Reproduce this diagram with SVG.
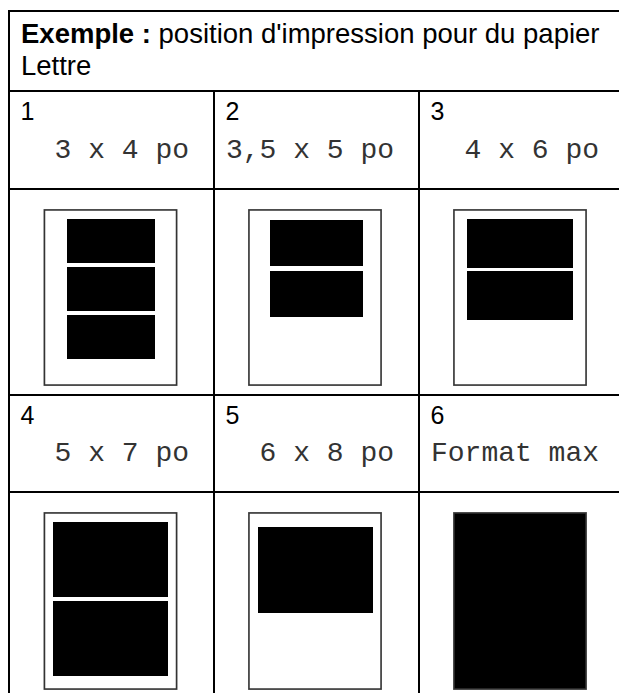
<svg xmlns="http://www.w3.org/2000/svg" width="619" height="693" viewBox="0 0 619 693">
<style>
.grid{stroke:#000;stroke-width:2;fill:none}
.hd{font-family:"Liberation Sans",Arial,sans-serif;font-size:27.5px;fill:#000}
.num{font-family:"Liberation Sans",Arial,sans-serif;font-size:25px;fill:#000}
.mono{font-family:"Liberation Mono","Courier New",monospace;font-size:28px;fill:#333}
.frame{fill:#fff;stroke:#333;stroke-width:1.5}
.frameo{fill:none;stroke:#999;stroke-width:1}
.blk{fill:#000}
</style>
<rect width="619" height="693" fill="#fff"/>
<g id="table" class="grid">
<line x1="8" y1="11" x2="619" y2="11"/>
<line x1="9" y1="10" x2="9" y2="693"/>
<line x1="8" y1="91" x2="619" y2="91"/>
<line x1="8" y1="189" x2="619" y2="189"/>
<line x1="8" y1="395" x2="619" y2="395"/>
<line x1="8" y1="492" x2="619" y2="492"/>
<line x1="214" y1="91" x2="214" y2="693"/>
<line x1="419" y1="91" x2="419" y2="693"/>
</g>
<g id="header">
<text class="hd" x="21" y="43"><tspan font-weight="bold">Exemple :</tspan> position d'impression pour du papier</text>
<text class="hd" x="21" y="75">Lettre</text>
</g>
<g id="cell1">
<text class="num" x="20.5" y="120">1</text>
<text class="mono" x="54.6" y="158">3 x 4 po</text>
<rect class="frameo" x="44" y="209.5" width="133" height="176"/>
<rect class="frame" x="44.5" y="210" width="132" height="175"/>
<rect class="blk" x="67" y="219" width="88" height="44"/>
<rect class="blk" x="67" y="267" width="88" height="44"/>
<rect class="blk" x="67" y="315" width="88" height="44"/>
</g>
<g id="cell2">
<text class="num" x="225.5" y="120">2</text>
<text class="mono" x="226" y="158">3,5 x 5 po</text>
<rect class="frameo" x="248.5" y="209.5" width="133" height="176"/>
<rect class="frame" x="249" y="210" width="132" height="175"/>
<rect class="blk" x="270" y="220" width="93" height="46"/>
<rect class="blk" x="270" y="271" width="93" height="46"/>
</g>
<g id="cell3">
<text class="num" x="430.5" y="120">3</text>
<text class="mono" x="464.6" y="158">4 x 6 po</text>
<rect class="frameo" x="453.5" y="209.5" width="133" height="176"/>
<rect class="frame" x="454" y="210" width="132" height="175"/>
<rect class="blk" x="467" y="219" width="106" height="49"/>
<rect class="blk" x="467" y="271" width="106" height="49"/>
</g>
<g id="cell4">
<text class="num" x="20.5" y="424">4</text>
<text class="mono" x="54.6" y="461">5 x 7 po</text>
<rect class="frameo" x="44" y="512.5" width="133" height="177"/>
<rect class="frame" x="44.5" y="513" width="132" height="176"/>
<rect class="blk" x="53" y="522" width="115" height="75"/>
<rect class="blk" x="53" y="601" width="115" height="75"/>
</g>
<g id="cell5">
<text class="num" x="225.5" y="424">5</text>
<text class="mono" x="259.6" y="461">6 x 8 po</text>
<rect class="frameo" x="248.5" y="512.5" width="133" height="177"/>
<rect class="frame" x="249" y="513" width="132" height="176"/>
<rect class="blk" x="258" y="527" width="115" height="86"/>
</g>
<g id="cell6">
<text class="num" x="430.5" y="424">6</text>
<text class="mono" x="431" y="461">Format max</text>
<rect class="frameo" x="453.5" y="512.5" width="133" height="177"/>
<rect x="454" y="513" width="132" height="176" fill="#000" stroke="#333" stroke-width="1.5"/>
</g>
</svg>
